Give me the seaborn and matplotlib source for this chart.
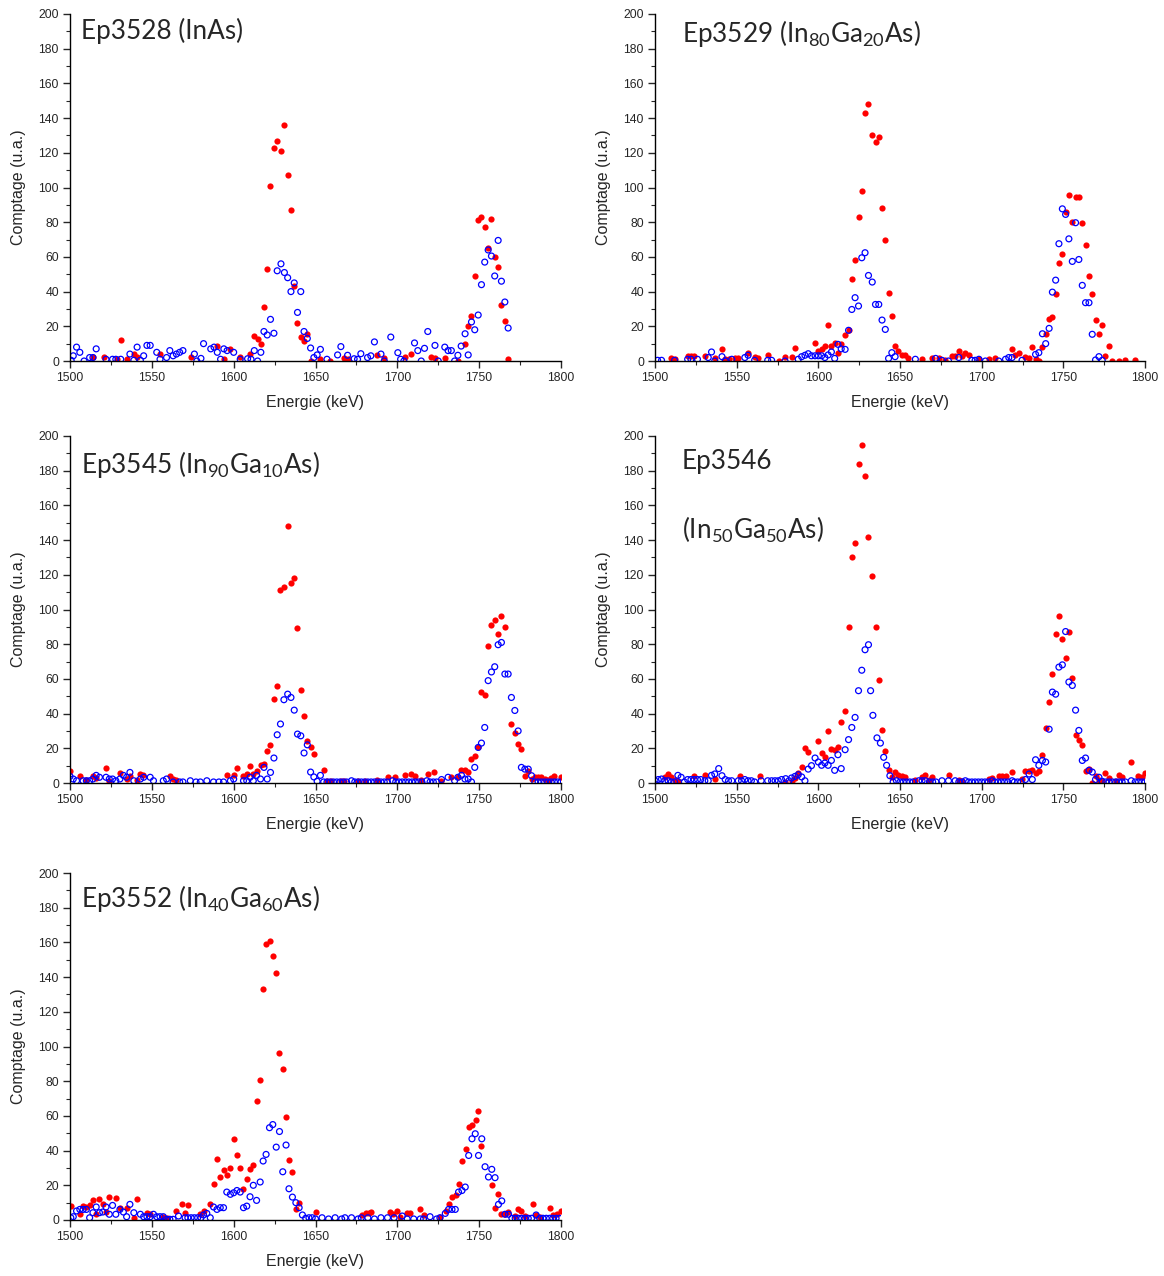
import matplotlib
matplotlib.use('Agg')
import matplotlib.pyplot as plt
import seaborn as sns
from matplotlib.ticker import MultipleLocator

# data: (energie keV, comptage)
ep3528_red = [(1514, 2.5), (1521, 2.5), (1528.5, 1.3), (1531, 12), (1535, 1), (1539, 4), (1541, 2.3),
              (1555, 4), (1574, 2.5), (1590, 8.6), (1594, 1), (1598, 6.7), (1604, 2.5), (1610, 4),
              (1612.5, 14.4), (1614.6, 12.5), (1616.7, 10), (1618.5, 31), (1620.5, 53), (1622.5, 101),
              (1624.6, 123), (1626.6, 127), (1628.9, 121), (1631, 136), (1633, 107), (1635, 87),
              (1637, 43), (1639, 22), (1641, 13.8), (1643, 11.5), (1645, 15.7), (1647, 0), (1653, 1),
              (1659, 0), (1667.5, 2), (1669.6, 1), (1687.6, 3.3), (1692, 2), (1704.6, 2.5), (1708.5, 4.2),
              (1720.7, 2.3), (1723, 1.5), (1729, 2), (1737, 0), (1741.5, 9.6), (1743.3, 20), (1745.3, 26),
              (1747.4, 49), (1749.4, 81), (1751.4, 83), (1753.4, 77), (1755.5, 65), (1757.5, 82),
              (1759.5, 60), (1761.6, 54), (1763.6, 32), (1765.7, 23), (1767.7, 1)]
ep3528_blue = [(1500.7, 0.4), (1502, 3), (1504, 8), (1506, 5), (1508.6, 0), (1512, 2), (1514, 2), (1516, 7),
               (1522, 1), (1526, 1), (1528, 1), (1531, 1), (1536.6, 4), (1539, 0.4), (1541, 8), (1543, 0.4),
               (1545, 3), (1547, 9), (1549, 9), (1553, 5), (1555, 1), (1559, 2), (1561, 6), (1563, 3),
               (1565, 4), (1567, 5), (1569, 6), (1576, 4), (1577.5, 0), (1580, 1.5), (1581.6, 10),
               (1586, 7), (1588, 8), (1590, 5), (1592, 1), (1594, 7), (1596, 6), (1600, 5), (1604, 1),
               (1608.5, 1.3), (1610.6, 1), (1612.6, 6), (1614.6, 0), (1616.6, 5), (1618.5, 17),
               (1620.5, 15), (1622.5, 24), (1624.6, 16), (1626.6, 52), (1628.9, 56), (1631, 51),
               (1633, 48), (1635, 40), (1637, 45), (1639, 28), (1641, 40), (1643, 17), (1645, 13),
               (1647, 7.5), (1649, 2), (1651, 3.5), (1653, 6.7), (1657, 1), (1663.5, 3.5), (1665.5, 8.3),
               (1669.6, 3.3), (1673.6, 1.3), (1675.7, 1), (1677.7, 4.2), (1681.8, 2), (1683.8, 3),
               (1686, 11), (1690, 4), (1692, 0), (1696, 13.8), (1700.3, 4.8), (1702, 1), (1704, 0),
               (1710.5, 10.4), (1712.5, 6), (1714.6, 0), (1716.6, 7.3), (1718.6, 17), (1723, 9),
               (1725, 0), (1729, 8), (1731, 6), (1733, 6), (1735, 0), (1737, 3.3), (1739, 8.6),
               (1741.4, 15.7), (1743.3, 3.5), (1745.3, 22.5), (1747.3, 18), (1749.4, 26.5), (1751.4, 44),
               (1753.4, 57), (1755.5, 64), (1757.5, 60.5), (1759.5, 49), (1761.6, 69.5), (1763.6, 46),
               (1765.7, 34), (1767.7, 19)]

ep3529_red = [(1509.7, 2), (1512, 1), (1520, 3), (1522, 3), (1524, 3), (1530.5, 3), (1536.6, 2), (1541, 7),
              (1543, 1), (1545, 1), (1549, 2), (1551, 2), (1557, 4.4), (1561, 2.5), (1563, 1.5),
              (1569, 3.3), (1575.7, 0), (1579.6, 2.5), (1583.6, 2.5), (1585.7, 7.7), (1598, 10.6),
              (1600, 5.8), (1602, 7), (1604, 8.6), (1606, 20.7), (1608, 8.6), (1610, 10.6), (1612, 4.8),
              (1614, 10), (1616.4, 15), (1618.5, 17.7), (1620.5, 47), (1622.5, 58), (1624.6, 83),
              (1626.6, 98), (1628.6, 143), (1630.7, 148), (1633, 130), (1635, 126), (1637, 129),
              (1639, 88), (1641, 69.5), (1643, 39), (1645, 26), (1647, 8.6), (1649, 5.8), (1651, 3.3),
              (1653, 3.3), (1655, 2), (1663.5, 1), (1669.5, 1.5), (1673.6, 2), (1677.7, 0.6),
              (1681.8, 3), (1683.8, 3), (1686, 5.8), (1688, 3), (1690, 4.8), (1692, 3.3), (1698.3, 1),
              (1704.4, 1), (1708.4, 2), (1718.6, 7), (1720.7, 3.3), (1722.7, 4.4), (1726.8, 2.5),
              (1729, 2), (1731, 8.3), (1733, 1), (1735, 0), (1737, 8.3), (1739.2, 15.4), (1741.3, 24.4),
              (1743.3, 25.3), (1745.3, 38.4), (1747.3, 56.6), (1749.4, 61.4), (1751.4, 85.8),
              (1753.4, 95.6), (1755.5, 80), (1757.5, 94.6), (1759.5, 94.6), (1761.6, 79.7),
              (1763.6, 66.6), (1765.7, 49), (1767.7, 38.8), (1769.7, 23.6), (1771.8, 15.7),
              (1773.8, 21), (1775.8, 3), (1777.9, 8.6), (1780, 0), (1784, 0), (1788, 0.4), (1794, 0.4)]
ep3529_blue = [(1501.6, 0.4), (1504, 0.4), (1512, 0.4), (1520, 1), (1522, 1), (1526, 1), (1532.6, 2),
               (1534.6, 5.2), (1536.6, 0), (1541, 2.5), (1543, 0), (1547, 1), (1555, 2), (1557, 3.3),
               (1561, 0.4), (1569, 0.4), (1571.4, 0.4), (1579.6, 0), (1587.7, 1), (1589.8, 2.5),
               (1591.8, 3.3), (1593.8, 4.2), (1595.8, 3), (1598, 3), (1600, 3), (1602, 3), (1604, 2),
               (1606, 3.5), (1608, 5.2), (1610, 1.5), (1612, 9.6), (1614, 7), (1616.4, 6.7),
               (1618.5, 17.7), (1620.5, 29.7), (1622.5, 36.5), (1624.6, 31.7), (1626.6, 59.5),
               (1628.6, 62.4), (1630.7, 49.3), (1633, 45.5), (1635, 32.6), (1637, 32.6), (1639, 23.6),
               (1641, 18.2), (1643, 1.5), (1645, 4.8), (1647, 2.5), (1659.4, 1), (1671.8, 1.5),
               (1675.7, 0.4), (1679.7, 0), (1686, 2), (1694, 0.4), (1696, 0.4), (1698.3, 1),
               (1702.3, 0), (1710.5, 0), (1714.6, 1), (1716.6, 2), (1718.6, 2), (1724.7, 0.4),
               (1733, 3.8), (1735, 4.8), (1737.2, 15.7), (1739.2, 10), (1741.3, 18.8), (1743.3, 39.7),
               (1745.3, 46.6), (1747.3, 67.6), (1749.4, 87.7), (1751.4, 84.5), (1753.4, 70.4),
               (1755.5, 57.4), (1757.5, 79.7), (1759.5, 58.5), (1761.6, 43.6), (1763.6, 33.6),
               (1765.7, 33.6), (1767.7, 15.4), (1769.7, 0.6), (1771.8, 2.5), (1773.8, 0.4)]

ep3545_red = [(1500, 6.7), (1506, 4.2), (1510, 2), (1514, 4.2), (1516, 2.9), (1522, 8.6), (1524, 1),
              (1530.5, 5.8), (1534.6, 2.3), (1536.6, 3.8), (1541, 2), (1543, 5.2), (1544.8, 4.8),
              (1561, 3.8), (1563, 2.3), (1565, 2), (1596, 4.8), (1600, 4.8), (1602, 8.6), (1606, 3.8),
              (1608, 5.2), (1610, 9.6), (1612, 5.2), (1614, 6.7), (1616.4, 10.6), (1618.5, 11),
              (1620.5, 18.2), (1622.5, 22), (1624.6, 48.4), (1626.6, 56), (1628.6, 111.3),
              (1630.7, 113.2), (1633, 148), (1635, 115), (1637, 118.4), (1639, 89.6), (1641, 53.4),
              (1643, 38.8), (1645, 24), (1647, 20.7), (1649, 16.9), (1655, 7.3), (1657, 1.3),
              (1659.4, 1.3), (1665.5, 1.3), (1667.5, 1.3), (1676, 1.3), (1680, 1.3), (1687.6, 2),
              (1694.4, 3.3), (1698.3, 3.3), (1704.4, 4.4), (1708.5, 5.2), (1710.5, 3.8), (1714.6, 2),
              (1718.6, 5.2), (1722.7, 6.1), (1726.8, 1.3), (1733, 3.3), (1737, 3.3), (1739.2, 7.3),
              (1741.3, 7.3), (1743.3, 6.3), (1745.3, 13.8), (1747.3, 15.7), (1749.4, 20.7),
              (1751.4, 52.2), (1753.4, 50.9), (1755.5, 79), (1757.5, 90.8), (1759.5, 93.7),
              (1761.6, 86), (1763.6, 96), (1765.7, 89.8), (1769.7, 34.2), (1771.8, 28.8),
              (1773.8, 22.5), (1775.8, 19.6), (1777.9, 4.2), (1780, 6.7), (1782, 2.3), (1784, 3.3),
              (1786, 3.3), (1788, 3.3), (1790, 2.3), (1792, 2), (1794, 2.9), (1796, 3.8), (1800, 3.3)]
ep3545_blue = [(1500, 3.8), (1502, 2.3), (1504, 1.3), (1508, 1.3), (1510, 1.3), (1512, 1.3), (1514, 2.3),
               (1516, 4.4), (1518, 3.3), (1522, 3.3), (1524, 2.3), (1526, 2.3), (1528, 1.3),
               (1530.5, 2.3), (1532.6, 4.4), (1534.6, 3.3), (1536.6, 6.1), (1539, 1.3), (1543, 2.3),
               (1545, 3.3), (1549, 3.3), (1551, 1.3), (1557, 1.3), (1559, 2.3), (1563, 0.6),
               (1567, 0.6), (1569, 0.6), (1573.5, 1.3), (1577, 0.6), (1579.6, 0.6), (1583.6, 1.3),
               (1587.7, 0.6), (1591, 0.6), (1593.8, 0.6), (1598, 1.3), (1600, 2.3), (1606, 1.3),
               (1608, 1.3), (1610, 3.3), (1612, 1.3), (1614, 4.4), (1616.4, 2.3), (1618.5, 9),
               (1620.5, 2.3), (1622.5, 6.1), (1624.6, 14.4), (1626.6, 27.8), (1628.6, 34),
               (1630.7, 48), (1633, 51.2), (1635, 49.3), (1637, 42), (1639, 28.2), (1641, 27.2),
               (1643, 17.3), (1645, 22), (1647, 6.3), (1649, 3.5), (1651, 1), (1653, 4.4), (1655, 0.6),
               (1657, 0.6), (1659, 0.6), (1661, 0.6), (1663, 0.6), (1665, 0.6), (1667, 0.6),
               (1669, 0.6), (1672, 1.3), (1674, 0.6), (1676, 0.6), (1678, 0.6), (1680, 0.6),
               (1682, 0.6), (1684, 0.6), (1686, 0.6), (1688, 0.6), (1690, 0.6), (1692, 0.6),
               (1694, 0.6), (1697, 1.3), (1699, 0.6), (1701, 0.6), (1703, 0.6), (1705, 0.6),
               (1707, 0.6), (1709, 0.6), (1711, 0.6), (1713, 0.6), (1715, 0.6), (1718, 1.3),
               (1720, 0.6), (1722, 0.6), (1724, 0.6), (1727, 2), (1731, 3.3), (1735, 1.3), (1737, 3.3),
               (1739.2, 4.4), (1741.3, 2.3), (1743.3, 2.3), (1745.3, 0.6), (1747.3, 9), (1749.4, 20.5),
               (1751.4, 23), (1753.4, 32), (1755.5, 59), (1757.5, 64), (1759.5, 67), (1761.6, 79.7),
               (1763.6, 81), (1765.7, 62.8), (1767.7, 62.8), (1769.7, 49.3), (1771.8, 41.8),
               (1773.8, 30), (1775.8, 9), (1777.9, 8), (1780, 8), (1782, 4.2), (1784, 0.6),
               (1786, 0.6), (1788, 0.6), (1790, 0.6), (1792, 0.6), (1794, 0.6), (1796, 0.6),
               (1798, 0.6), (1800, 0.6)]

ep3546_red = [(1506, 3.3), (1508, 5.2), (1510, 3.3), (1512, 2), (1514, 1), (1524, 4.2), (1530.5, 4.8),
              (1536.6, 2.5), (1552, 3.8), (1564, 4.2), (1579.6, 0.6), (1583.6, 1.3), (1585.7, 2.9),
              (1587.7, 5.8), (1589.8, 9), (1591.8, 20.2), (1593.8, 17.7), (1600, 24.4), (1602, 17.3),
              (1604, 14.8), (1606, 29.8), (1608, 19.8), (1610, 19.2), (1612, 21), (1614, 35),
              (1616.4, 41.3), (1618.5, 90), (1620.5, 130.3), (1622.5, 138.6), (1624.6, 183.7),
              (1626.6, 194.6), (1628.6, 177), (1630.7, 141.8), (1633, 119.4), (1635, 90),
              (1637, 59.5), (1639, 30.5), (1641, 18.6), (1643, 7.7), (1645, 3.3), (1647, 6.3),
              (1649, 4.8), (1651, 4.2), (1653, 3.3), (1659.4, 2), (1663.5, 3.3), (1665.5, 4.4),
              (1667.5, 2), (1669.5, 3.5), (1679.7, 4.4), (1686, 2), (1688, 1.3), (1704.4, 2.5),
              (1706.4, 2.9), (1710.5, 3.8), (1712.5, 3.8), (1714.6, 4.2), (1718.6, 6.3), (1724.7, 2.5),
              (1726.8, 6.7), (1729, 6.7), (1731, 7.7), (1733, 5.8), (1735, 7.1), (1737.2, 16.3),
              (1739.2, 31.7), (1741.3, 46.4), (1743.3, 62.8), (1745.3, 85.8), (1747.3, 96),
              (1749.4, 82.9), (1751.4, 72), (1753.4, 87.3), (1755.5, 60.5), (1757.5, 27.8),
              (1759.5, 24.6), (1761.6, 21.7), (1763.6, 6.7), (1765.7, 8), (1767.7, 0), (1769.7, 4.2),
              (1771.8, 2), (1773.8, 1.3), (1775.8, 5.8), (1777.9, 2.9), (1782, 1.3), (1784, 4.4),
              (1786, 3.3), (1791.6, 12), (1795.5, 3.8), (1798, 3.3), (1800, 5.8)]
ep3546_blue = [(1500, 1.3), (1502, 2), (1504, 2.3), (1506, 1.3), (1508, 1.3), (1510, 0.6), (1512, 0.6),
               (1514, 4.4), (1516, 3.3), (1518, 0.6), (1520, 2), (1522, 2), (1524, 2), (1526, 2),
               (1528, 2), (1530.5, 1.3), (1532.6, 1.3), (1534.6, 4.4), (1536.6, 5.2), (1539, 8.3),
               (1541, 4.2), (1543, 2), (1545, 1.3), (1547, 1.3), (1551, 1.3), (1553, 1.3), (1555, 2),
               (1557, 1.3), (1559, 1.3), (1561, 0.6), (1565, 1.3), (1569, 1.3), (1571.4, 1.3),
               (1573.5, 1.3), (1575.5, 1.3), (1577.5, 2), (1580, 2.5), (1582, 1.3), (1583.6, 2.9),
               (1585.7, 3.8), (1587.7, 4.8), (1589.8, 3.5), (1591.8, 1.3), (1593.8, 8), (1595.8, 10),
               (1598, 14.4), (1600, 12.1), (1602, 10.2), (1604, 11.5), (1606, 10.2), (1608, 13),
               (1610, 7.3), (1612, 16.3), (1614, 8.3), (1616.4, 19.2), (1618.5, 25), (1620.5, 32),
               (1622.5, 37.8), (1624.6, 53.2), (1626.6, 65), (1628.6, 76.8), (1630.7, 79.7),
               (1632, 53.2), (1633.4, 39), (1635.9, 26), (1638, 23), (1640, 14.8), (1641.8, 10.2),
               (1643.8, 4.2), (1645.8, 0.6), (1647.8, 1.3), (1650, 0.6), (1652, 0.6), (1654, 0.6),
               (1656, 0.6), (1658, 0.6), (1661.5, 1.3), (1663.5, 1.3), (1665.5, 1.3), (1668, 0.6),
               (1670, 0.6), (1672, 0.6), (1675.7, 1.3), (1679.7, 1.3), (1683.8, 1.3), (1686, 0.6),
               (1688, 0.6), (1690, 1.3), (1692, 0.6), (1694, 0.6), (1696, 0.6), (1698, 0.6),
               (1700, 0.6), (1702, 0.6), (1704, 0.6), (1706.4, 1.3), (1708, 0.6), (1710, 0.6),
               (1712, 0.6), (1714, 0.6), (1716, 0.6), (1718.6, 1.3), (1720, 0.6), (1722, 0.6),
               (1724, 0.6), (1726.8, 2), (1729, 5.2), (1731, 2), (1733, 13.4), (1735, 10.2),
               (1737.2, 13), (1739.2, 12.1), (1741.3, 31), (1743.3, 52.4), (1745.3, 51.2),
               (1747.3, 66.8), (1749.4, 68.1), (1751.4, 87.3), (1753.4, 58.2), (1755.5, 56.2),
               (1757.5, 42), (1759.5, 30.3), (1761.6, 13), (1763.6, 14.4), (1765.7, 7.3),
               (1767.7, 6.3), (1769.7, 2), (1771.8, 3.3), (1773.8, 1), (1776, 0.6), (1778, 0.6),
               (1780, 0.6), (1782, 0.6), (1784, 0.6), (1786, 0.6), (1788, 0.6), (1791.6, 1.3),
               (1794, 0.6), (1796, 0.6), (1798, 0.6), (1800, 0.6)]

ep3552_red = [(1500.5, 8), (1506, 3.6), (1508, 8), (1510, 7.5), (1512, 8.6), (1514, 11.5), (1516, 3.6),
              (1518, 12), (1520, 9.4), (1522, 4.6), (1524, 13.2), (1528, 12.5), (1530.5, 6.7),
              (1534.6, 7.1), (1539, 1.3), (1541, 12), (1547, 4.2), (1549, 3.3), (1557, 1.7), (1559, 1),
              (1564.5, 5.2), (1568.3, 9.4), (1570.3, 4.2), (1572.3, 8.4), (1579.6, 3.3), (1581.8, 5.2),
              (1585.7, 9.4), (1587.7, 20.5), (1589.8, 35.3), (1591.8, 24.8), (1593.8, 28.8),
              (1595.8, 25.7), (1598, 29.8), (1600, 46.8), (1602, 37.2), (1604, 30.1), (1606, 17.7),
              (1608, 23.4), (1610, 29.6), (1612, 31.7), (1614, 68.5), (1616.2, 80.6), (1618, 133.2),
              (1619.8, 159), (1621.9, 161), (1623.9, 152), (1626, 142.4), (1628, 96.4), (1630, 87.3),
              (1632, 59.5), (1633.8, 34.5), (1635.9, 27.8), (1638, 6.1), (1640, 10), (1650, 4.6),
              (1678.6, 2.9), (1680.6, 3.8), (1682.7, 4.2), (1684, 4.6), (1695.6, 4.6), (1697.6, 3.6),
              (1699.7, 5.2), (1701.7, 1.7), (1705.8, 4.2), (1707.8, 4.2), (1714, 6.1), (1716, 2.9),
              (1726, 1.7), (1729.5, 5.2), (1731.5, 9), (1733.6, 13.4), (1735.6, 14.4), (1737.6, 20.9),
              (1739.7, 34), (1741.7, 41), (1743.8, 53.5), (1745.8, 54.7), (1747.8, 57.6),
              (1749.4, 62.8), (1751.4, 42.6), (1757.7, 20.2), (1759.5, 7.1), (1761.6, 15.2),
              (1763.6, 3.3), (1765.7, 3.3), (1767.7, 4.6), (1771.8, 2.3), (1773.8, 6.1), (1775.8, 5.2),
              (1777.9, 2.3), (1782.8, 9.4), (1784.8, 2.7), (1787, 1.7), (1793, 7.1), (1795.2, 2.9),
              (1797.3, 3.3), (1800, 5.2)]
ep3552_blue = [(1500.5, 1.3), (1502, 1.9), (1504, 5.2), (1506, 6.1), (1508, 6.1), (1510, 6.1), (1512, 1.3),
               (1514, 4.2), (1516, 7.5), (1518, 4.2), (1520, 4.6), (1522, 7.5), (1524, 3.3), (1526, 8.4),
               (1528, 3.3), (1530.5, 6.1), (1532.6, 4.6), (1534.6, 1.9), (1536.6, 9), (1539, 4.2),
               (1543, 3.3), (1545, 1.9), (1547, 1.9), (1549, 1.9), (1551, 3.3), (1553, 1.9), (1555, 1.9),
               (1557, 1.9), (1559, 0.4), (1561, 0.4), (1563, 0.4), (1566.3, 2.3), (1570.3, 1.3),
               (1572, 1.3), (1574, 1.3), (1576, 1.3), (1578, 1.3), (1580, 1.3), (1581.6, 2.9),
               (1583.6, 3.8), (1585.7, 1.3), (1587.7, 7.5), (1589.8, 6.1), (1591.8, 7.1), (1593.8, 7.1),
               (1595.8, 16.1), (1598, 14.8), (1600, 15.7), (1602, 17), (1604, 16.1), (1606, 7.1),
               (1608, 8), (1610, 13.4), (1612, 20), (1614, 11.3), (1616.2, 21.9), (1618, 34),
               (1619.8, 37.8), (1621.9, 53.2), (1623.9, 55), (1626, 42), (1628, 51), (1630, 27.8),
               (1632, 43.2), (1633.8, 18), (1635.9, 13.2), (1638, 10), (1640, 7.1), (1642, 2.9),
               (1644, 1), (1646, 1.3), (1648, 1.3), (1650, 0.6), (1654, 1.3), (1658, 0.6), (1662, 1.3),
               (1666, 0.6), (1668, 1.3), (1672, 1.3), (1676, 0.6), (1678, 1.3), (1682, 1.3),
               (1686, 0.6), (1690, 1.3), (1694, 1.3), (1698, 1.3), (1703, 2.3), (1706, 0.6),
               (1710, 0.6), (1714, 0.6), (1716, 0.6), (1720, 1.9), (1724, 0.6), (1726, 1.3),
               (1729.3, 3.8), (1731.3, 6.1), (1733.4, 6.1), (1735.4, 6.1), (1737.4, 16.1),
               (1739.5, 17), (1741.5, 19), (1743.6, 37.2), (1745.6, 46.8), (1747.6, 49.7),
               (1749.6, 37.2), (1751.6, 46.8), (1753.6, 30.7), (1755.7, 24.8), (1757.7, 29.2),
               (1759.7, 24.4), (1761.8, 9), (1763.8, 11), (1765.8, 3.3), (1767.9, 3.3), (1770, 1),
               (1772, 1), (1774, 1), (1776, 1), (1778, 1), (1780, 1), (1782, 1), (1784.8, 2.9),
               (1787, 1), (1789, 1), (1791, 1), (1793, 1), (1795, 1), (1797, 1), (1799, 1)]

titles = ['Ep3528 (InAs)', r'Ep3529 (In$_{80}$Ga$_{20}$As)', r'Ep3545 (In$_{90}$Ga$_{10}$As)',
          'Ep3546', r'Ep3552 (In$_{40}$Ga$_{60}$As)']
title2_ep3546 = r'(In$_{50}$Ga$_{50}$As)'

sns.set_style('ticks')
plt.rcParams['font.family'] = ['Liberation Sans', 'DejaVu Sans']
plt.rcParams['mathtext.fontset'] = 'custom'
plt.rcParams['mathtext.rm'] = 'Lato'
plt.rcParams['mathtext.it'] = 'Lato'
plt.rcParams['mathtext.bf'] = 'Lato'

fig = plt.figure(figsize=(11.64, 12.76), dpi=100)
W, H = 1164, 1276

# axes boxes in pixels: left, top, right, bottom
boxes = [(70, 14, 561, 361), (655, 14, 1145, 361),
         (70, 436, 561, 783), (655, 436, 1145, 783),
         (70, 873, 561, 1220)]
title_pos = [(0.022, 0.988), (0.055, 0.988), (0.022, 0.962), (0.055, 0.962), (0.022, 0.97)]
series = [(ep3528_red, ep3528_blue), (ep3529_red, ep3529_blue), (ep3545_red, ep3545_blue),
          (ep3546_red, ep3546_blue), (ep3552_red, ep3552_blue)]

for i, (red, blue) in enumerate(series):
    l, t, r, b = boxes[i]
    ax = fig.add_axes([l / W, 1 - b / H, (r - l) / W, (b - t) / H])
    rx, ry = zip(*red)
    bx, by = zip(*blue)
    sns.scatterplot(x=list(rx), y=list(ry), ax=ax, color='#ff0000', s=20, linewidth=0)
    sns.scatterplot(x=list(bx), y=list(by), ax=ax, facecolor='none', edgecolor='#0000ff',
                    s=18, linewidth=0.9)
    ax.set_xlim(1500, 1800)
    ax.set_ylim(0, 200)
    ax.xaxis.set_major_locator(MultipleLocator(50))
    ax.xaxis.set_minor_locator(MultipleLocator(25))
    ax.yaxis.set_major_locator(MultipleLocator(20))
    ax.yaxis.set_minor_locator(MultipleLocator(10))
    ax.tick_params(which='major', direction='out', length=5, width=1, labelsize=8.8, pad=3)
    ax.tick_params(which='minor', direction='out', length=3, width=0.8)
    sns.despine(ax=ax)
    for sp in ['left', 'bottom']:
        ax.spines[sp].set_linewidth(1)
        ax.spines[sp].set_color('black')
    ax.set_xlabel('Energie (keV)', fontsize=11.5, labelpad=8)
    ax.set_ylabel('Comptage (u.a.)', fontsize=11.5, labelpad=9)
    tx, ty = title_pos[i]
    ax.text(tx, ty, titles[i], transform=ax.transAxes, fontsize=18.8, family='Lato',
            va='top', ha='left')
    if i == 3:
        ax.text(tx, 0.772, title2_ep3546, transform=ax.transAxes, fontsize=18.8, family='Lato',
                va='top', ha='left')

fig.savefig('out.png', dpi=100)
